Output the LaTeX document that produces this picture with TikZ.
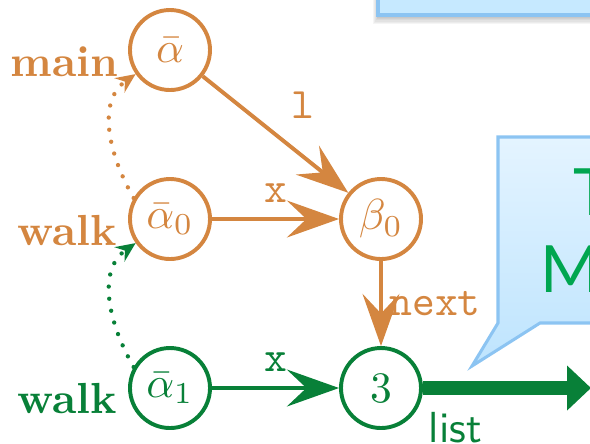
\documentclass[tikz,border=0pt]{standalone}
\usepackage{fontspec}
\newfontfamily\calloutfont{Lato}
\usetikzlibrary{arrows.meta,calc}

\definecolor{orng}{RGB}{212,134,64}
\definecolor{grn}{RGB}{8,128,56}
\definecolor{brightgrn}{RGB}{0,166,80}
\definecolor{boxfill}{RGB}{198,233,255}
\definecolor{boxline}{RGB}{140,196,242}
\definecolor{calltop}{RGB}{228,244,255}
\definecolor{callbot}{RGB}{190,228,254}

\tikzset{
  state/.style={circle, draw, line width=0.9pt, minimum size=18.4pt, inner sep=0pt},
  ostate/.style={state, draw=orng, text=orng},
  gstate/.style={state, draw=grn, text=grn},
  edgearrow/.style={line width=0.9pt, -{Stealth[length=12pt,width=8.5pt,inset=4.5pt]}},
  dotarrow/.style={line width=1pt, dash pattern=on 0pt off 2.8pt, line cap=round,
    -{Stealth[length=4.5pt,width=4pt,inset=1.5pt]}},
  lbl/.style={font=\ttfamily},
  varname/.style={font=\bfseries, anchor=base east, inner sep=0pt},
}

\begin{document}
\begin{tikzpicture}[x=0.23pt,y=-0.23pt]
\useasboundingbox (0,0) rectangle (590,443);
\clip (0,0) rectangle (590,443);

% soft shadow under the top box
\foreach \i in {1,...,7}
  \fill[black, opacity=0.04] (379-\i*0.8,-10) rectangle (600,16+\i*1.1);
\draw[draw=boxline, fill=boxfill, line width=0.8pt] (378,-10) rectangle (600,15);

% speech callout
\path[draw=boxline, line width=0.7pt, top color=calltop, bottom color=callbot]
  (498,137) -- (600,137) -- (600,323) -- (540,323) -- (472,366) -- (498,323) -- cycle;
\node[anchor=base west, inner sep=0pt, text=brightgrn, font=\calloutfont\fontsize{15}{18}\selectfont]
  (textT) at (573,215) {T};
\node[anchor=base west, inner sep=0pt, text=brightgrn, font=\calloutfont\fontsize{15}{18}\selectfont]
  (textMa) at (540,292) {Ma};

% states
\node[ostate] (a)  at (170,50)  {$\bar\alpha$};
\node[ostate] (a0) at (170,219) {$\bar\alpha_0$};
\node[ostate] (b0) at (381,219) {$\beta_0$};
\node[gstate] (a1) at (170,388) {$\bar\alpha_1$};
\node[gstate] (n3) at (381,388) {$3$};

% variable names
\node[varname, text=orng] (vmain)  at (119,76)  {main};
\node[varname, text=orng] (vwalk0) at (118,245) {walk};
\node[varname, text=grn]  (vwalk1) at (118,413) {walk};

% field edges
\draw[edgearrow, orng] (a) -- node[lbl, above right, text=orng] {l} (b0);
\draw[edgearrow, orng] (a0) -- node[lbl, above, text=orng] {x} (b0);
\draw[edgearrow, orng] (b0) -- node[lbl, right, inner sep=1.5pt, text=orng] {next} (n3);
\draw[edgearrow, grn] (a1) -- node[lbl, above, text=grn] {x} (n3);

% frame links
\draw[dotarrow, orng] (a0.150) to[out=120,in=215] (a.215);
\draw[dotarrow, grn]  (a1.150) to[out=120,in=215] (a0.215);

% list pointer
\coordinate (listend) at (591,388);
\draw[grn, line width=3pt, -{Triangle[length=5.5pt,width=10pt]}] (n3) -- (listend);
\node[anchor=north west, inner sep=0pt, text=grn, font=\sffamily] (listlbl)
  at ($(n3.east)+(5,23)$) {list};
\end{tikzpicture}
\end{document}
